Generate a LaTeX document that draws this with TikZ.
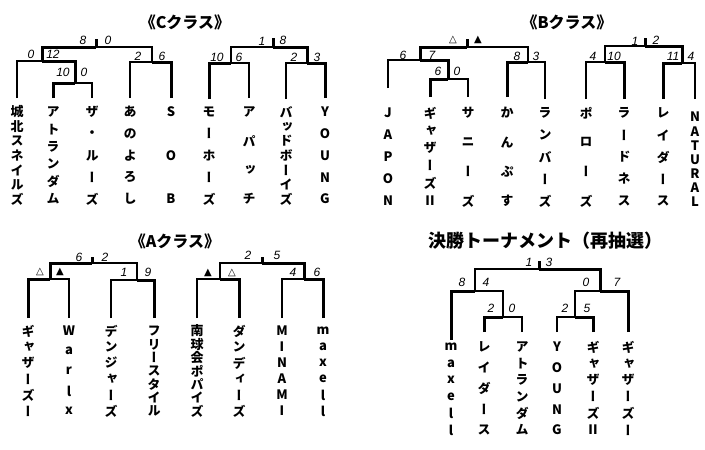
\documentclass[tikz,border=0pt]{standalone}
\usepackage{fontspec}
\setmainfont{Noto Sans CJK JP}
\newfontfamily\jpv{Noto Sans CJK JP}[RawFeature=+vert]
\newfontfamily\scfont{Liberation Sans}
\newfontfamily\symfont{DejaVu Sans}
\tikzset{
  ln/.style={line width=1.3pt},
  win/.style={line width=3pt},
  chr/.style={inner sep=0pt, anchor=center, font=\jpv\bfseries\fontsize{13}{13}\selectfont},
  sc/.style={inner sep=0pt, anchor=center, font=\scfont\itshape\fontsize{12}{12}\selectfont},
  tri/.style={inner sep=0pt, anchor=center, font=\symfont\fontsize{10}{10}\selectfont},
  ttl/.style={inner sep=0pt, anchor=center, font=\bfseries\fontsize{16}{16}\selectfont},
}
\newcommand\team[6]{%
  \coordinate (#1) at (#2,#3);
  \foreach \ch [count=\n] in {#6} {\xdef\nchars{\n}}
  \foreach \ch [count=\i from 0] in {#6}
    \node[chr] (#1-\i) at ({#2}, {#4+\i*(#5-#4)/(\nchars-1)}) {\ch};
}
\newcommand\match[5]{%
  \coordinate (#1) at (#2,#3);
  \draw[ln] (#5) |- (#1);
  \draw[win] (#4) |- (#1);
}
\begin{document}
\begin{tikzpicture}[x=1pt,y=-1pt]
\fill[white] (0,0) rectangle (705,450);
\useasboundingbox (0,0) rectangle (705,450);
% titles
\node[ttl] (tC) at (185,22) {《Cクラス》};
\node[ttl] (tB) at (567,22) {《Bクラス》};
\node[ttl] (tA) at (175,241) {《Aクラス》};
\node[ttl, font=\bfseries\fontsize{18}{18}\selectfont] (tF) at (545,241) {決勝トーナメント（再抽選）};
% C class teams
\team{jyo}{17}{98}{112}{199}{城,北,ス,ネ,イ,ル,ズ}
\team{atoC}{53}{98}{112}{199}{ア,ト,ラ,ン,ダ,ム}
\team{zaru}{92}{98}{112}{199}{ザ,・,ル,ー,ズ}
\team{ano}{130}{98}{112}{199}{あ,の,よ,ろ,し}
\team{sob}{171}{98}{112}{199}{S,O,B}
\team{moho}{209}{99}{112}{199}{モ,ー,ホ,ー,ズ}
\team{apa}{249}{98}{112}{199}{ア,パ,ッ,チ}
\team{bad}{286}{99}{112}{199}{バ,ッ,ド,ボ,ー,イ,ズ}
\team{youngC}{325}{98}{112}{199}{Y,O,U,N,G}
% B class teams
\team{japon}{388}{88}{113}{201}{J,A,P,O,N}
\team{gyaIIB}{430}{97}{113}{201}{ギ,ャ,ザ,ー,ズ,II}
\team{sani}{468}{97}{113}{201}{サ,ニ,ー,ズ}
\team{kan}{507}{97}{113}{201}{か,ん,ぷ,す}
\team{ran}{545}{99}{113}{201}{ラ,ン,バ,ー,ズ}
\team{poro}{586}{99}{113}{201}{ポ,ロ,ー,ズ}
\team{rad}{624}{99}{113}{201}{ラ,ー,ド,ネ,ス}
\team{raiB}{663}{99}{113}{201}{レ,イ,ダ,ー,ス}
\team{nat}{695}{99}{117}{202}{N,A,T,U,R,A,L}
% A class teams
\team{gyaIA}{28}{318}{331}{411}{ギ,ャ,ザ,ー,ズ,ー}
\team{war}{69}{318}{331}{411}{W,a,r,l,x}
\team{den}{111}{318}{331}{411}{デ,ン,ジ,ャ,ー,ズ}
\team{free}{154}{318}{331}{411}{フ,リ,ー,ス,タ,イ,ル}
\team{nan}{197}{318}{331}{411}{南,球,会,ポ,パ,イ,ズ}
\team{dan}{239}{318}{331}{411}{ダ,ン,デ,ィ,ー,ズ}
\team{minami}{282}{318}{331}{411}{M,I,N,A,M,I}
\team{maxA}{323}{318}{331}{411}{m,a,x,e,l,l}
% final teams
\team{maxF}{451}{340}{347}{430}{m,a,x,e,l,l}
\team{raiF}{484}{332}{347}{430}{レ,イ,ダ,ー,ス}
\team{atoF}{522}{332}{347}{430}{ア,ト,ラ,ン,ダ,ム}
\team{youngF}{557}{332}{347}{430}{Y,O,U,N,G}
\team{gyaIIF}{593}{332}{347}{430}{ギ,ャ,ザ,ー,ズ,II}
\team{gyaIF}{628}{332}{347}{430}{ギ,ャ,ザ,ー,ズ,ー}
% C class bracket
\match{mC1}{75}{83}{atoC}{zaru}
\match{mC2}{42}{61}{mC1}{jyo}
\match{mC3}{152}{62}{sob}{ano}
\match{mC4}{96}{47}{mC2}{mC3}
\coordinate (tC4) at (96,39); \draw[win] (mC4) -- (tC4);
\match{mC5}{231}{63}{moho}{apa}
\match{mC6}{307}{63}{youngC}{bad}
\match{mC7}{273}{47}{mC6}{mC5}
\coordinate (tC7) at (273,38); \draw[win] (mC7) -- (tC7);
% B class bracket
\match{mB1}{448}{79}{gyaIIB}{sani}
\match{mB2}{420}{60}{mB1}{japon}
\match{mB3}{528}{62}{kan}{ran}
\match{mB4}{467}{47}{mB2}{mB3}
\coordinate (tB4) at (467,39); \draw[win] (mB4) -- (tB4);
\match{mB5}{605}{62}{rad}{poro}
\match{mB6}{682}{63}{raiB}{nat}
\match{mB7}{645}{46}{mB6}{mB5}
\coordinate (tB7) at (645,38); \draw[win] (mB7) -- (tB7);
% A class bracket
\match{mA1}{50}{279}{gyaIA}{war}
\match{mA2}{137}{280}{free}{den}
\match{mA3}{92}{263}{mA1}{mA2}
\coordinate (tA3) at (92,257); \draw[win] (mA3) -- (tA3);
\match{mA4}{220}{279}{dan}{nan}
\match{mA5}{304}{279}{maxA}{minami}
\match{mA6}{262}{263}{mA5}{mA4}
\coordinate (tA6) at (262,257); \draw[win] (mA6) -- (tA6);
% final bracket
\match{mF1}{503}{317}{raiF}{atoF}
\match{mF2}{475}{291}{maxF}{mF1}
\match{mF3}{575}{317}{gyaIIF}{youngF}
\match{mF4}{600}{291}{gyaIF}{mF3}
\match{mF5}{539}{269}{mF4}{mF2}
\coordinate (tF5) at (539,261); \draw[win] (mF5) -- (tF5);
% scores C
\node[sc] (sC2l) at (31,54) {0};
\node[sc] (sC2r) at (53,54) {12};
\node[sc] (sC1l) at (63,72) {10};
\node[sc] (sC1r) at (84,72) {0};
\node[sc] (sC3l) at (138,56) {2};
\node[sc] (sC3r) at (162,56) {6};
\node[sc] (sC4l) at (83,40) {8};
\node[sc] (sC4r) at (108,40) {0};
\node[sc] (sC5l) at (217,57) {10};
\node[sc] (sC5r) at (239,57) {6};
\node[sc] (sC6l) at (294,57) {2};
\node[sc] (sC6r) at (317,57) {3};
\node[sc] (sC7l) at (262,41) {1};
\node[sc] (sC7r) at (283,40) {8};
% scores B
\node[sc] (sB2l) at (403,55) {6};
\node[sc] (sB2r) at (432,55) {7};
\node[sc] (sB1l) at (438,71) {6};
\node[sc] (sB1r) at (457,71) {0};
\node[sc] (sB3l) at (517,56) {8};
\node[sc] (sB3r) at (536,56) {3};
\node[tri] (sB4l) at (453,40) {△};
\node[tri] (sB4r) at (478,40) {▲};
\node[sc] (sB5l) at (593,56) {4};
\node[sc] (sB5r) at (614,56) {10};
\node[sc] (sB6l) at (673,56) {11};
\node[sc] (sB6r) at (691,56) {4};
\node[sc] (sB7l) at (635,41) {1};
\node[sc] (sB7r) at (656,40) {2};
% scores A
\node[tri] (sA1l) at (40,272) {△};
\node[tri] (sA1r) at (60,272) {▲};
\node[sc] (sA2l) at (124,272) {1};
\node[sc] (sA2r) at (148,272) {9};
\node[sc] (sA3l) at (79,257) {6};
\node[sc] (sA3r) at (105,257) {2};
\node[tri] (sA4l) at (208,273) {▲};
\node[tri] (sA4r) at (232,273) {△};
\node[sc] (sA5l) at (293,272) {4};
\node[sc] (sA5r) at (317,272) {6};
\node[sc] (sA6l) at (248,255) {2};
\node[sc] (sA6r) at (277,255) {5};
% scores final
\node[sc] (sF2l) at (462,282) {8};
\node[sc] (sF2r) at (486,282) {4};
\node[sc] (sF1l) at (491,308) {2};
\node[sc] (sF1r) at (512,308) {0};
\node[sc] (sF3l) at (565,308) {2};
\node[sc] (sF3r) at (587,308) {5};
\node[sc] (sF4l) at (586,282) {0};
\node[sc] (sF4r) at (617,282) {7};
\node[sc] (sF5l) at (529,262) {1};
\node[sc] (sF5r) at (549,262) {3};
\end{tikzpicture}
\end{document}
